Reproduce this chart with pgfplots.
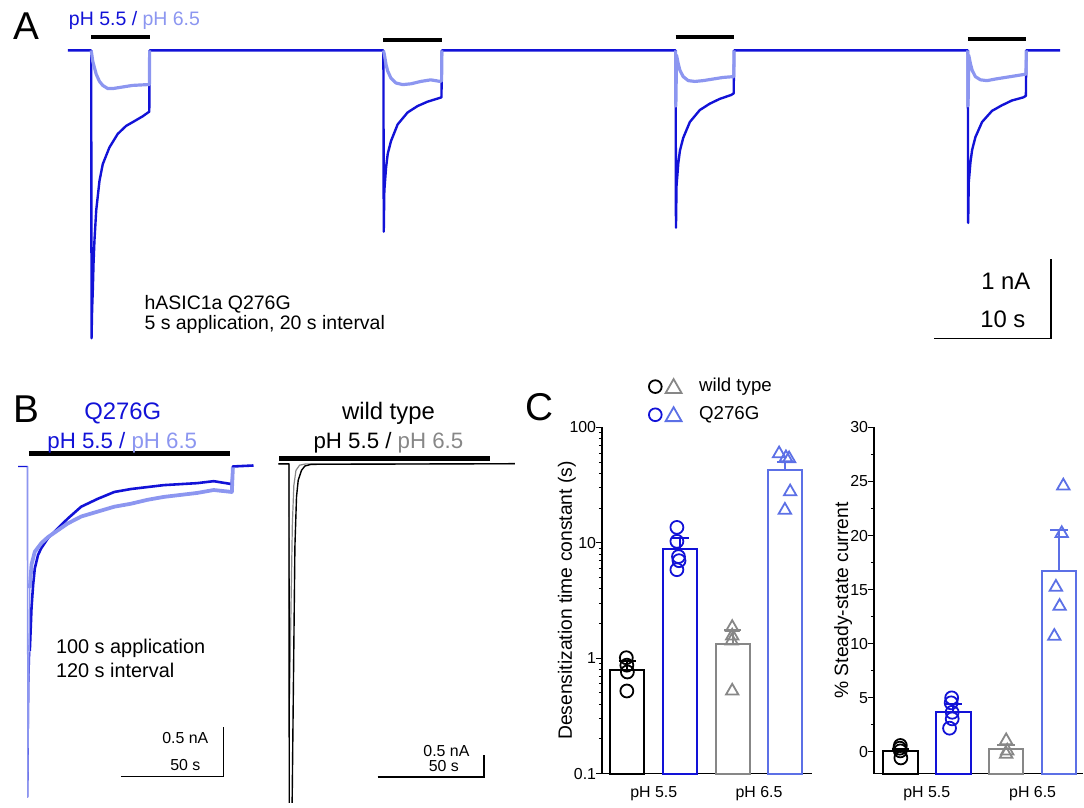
\documentclass[border=0pt]{standalone}
\usepackage{fontspec}
\setmainfont{Liberation Sans}
\usepackage{pgfplots}
\pgfplotsset{compat=1.18}
\definecolor{dblue}{RGB}{18,18,215}
\definecolor{lblue}{RGB}{140,150,240}
\definecolor{mblue}{RGB}{92,112,230}
\definecolor{gry}{RGB}{135,135,135}
\newcommand{\fs}[1]{\fontsize{#1}{#1}\selectfont}
\begin{document}
\begin{tikzpicture}
\begin{scope}[x=0.5pt,y=0.5pt]
\useasboundingbox (0,0) rectangle (1084,807);
\end{scope}

% ---------------- Panel A ----------------
\begin{axis}[at={(30pt,228.5pt)}, anchor=south west, scale only axis,
  width=505pt, height=165pt, xmin=-2.70, xmax=83.19, ymin=-3.741, ymax=0.384,
  hide axis, clip=false]
\addplot[dblue, line width=1.2pt, line join=round] coordinates {
(-2.0,0) (0,0) (0.03,-3.62) (0.08,-3.25) (0.14,-3.01) (0.2,-2.68) (0.28,-2.39) (0.43,-2.01) (0.71,-1.64) (0.99,-1.43) (1.56,-1.22) (2.27,-1.05) (2.98,-0.95) (3.69,-0.89) (4.39,-0.83) (4.97,-0.77) (5.0,0)
(25,0) (25.03,-2.28) (25.08,-1.76) (25.23,-1.47) (25.37,-1.30) (25.65,-1.14) (26.22,-0.93) (27.07,-0.78) (27.92,-0.70) (28.77,-0.645) (29.76,-0.60) (29.97,-0.59) (30,0)
(50,0) (50.03,-2.23) (50.08,-1.70) (50.23,-1.42) (50.37,-1.26) (50.65,-1.10) (51.22,-0.90) (52.07,-0.75) (52.92,-0.67) (53.77,-0.61) (54.76,-0.56) (54.97,-0.54) (55,0)
(75,0) (75.03,-2.17) (75.08,-1.66) (75.23,-1.40) (75.37,-1.25) (75.65,-1.09) (76.22,-0.90) (77.07,-0.76) (77.92,-0.69) (78.77,-0.63) (79.76,-0.59) (79.97,-0.57) (80,0) (82.9,0)};
\addplot[lblue, line width=1.6pt, line join=round] coordinates {
(0,0) (0.14,-0.14) (0.43,-0.30) (0.71,-0.39) (0.99,-0.44) (1.42,-0.48) (1.84,-0.48) (2.69,-0.46) (3.54,-0.44) (4.82,-0.43) (4.98,-0.43) (5.0,0)};
\addplot[lblue, line width=1.6pt, line join=round] coordinates {
(25,0) (25.08,-0.05) (25.23,-0.18) (25.37,-0.26) (25.65,-0.35) (26.08,-0.41) (26.65,-0.43) (27.35,-0.42) (28.2,-0.39) (29.05,-0.37) (29.85,-0.39) (29.98,-0.38) (30,0)};
\addplot[lblue, line width=1.6pt, line join=round] coordinates {
(50,0) (50.02,-0.7) (50.08,-0.06) (50.23,-0.17) (50.37,-0.25) (50.65,-0.33) (51.08,-0.38) (51.65,-0.39) (52.35,-0.38) (53.2,-0.36) (54.05,-0.34) (54.9,-0.33) (54.98,-0.33) (55,0)};
\addplot[lblue, line width=1.6pt, line join=round] coordinates {
(75,0) (75.02,-0.7) (75.08,-0.06) (75.23,-0.17) (75.37,-0.25) (75.65,-0.33) (76.08,-0.37) (76.65,-0.38) (77.35,-0.36) (78.2,-0.34) (79.05,-0.32) (79.9,-0.30) (79.98,-0.30) (80,0)};
% application bars
\addplot[black, line width=2pt] coordinates {(0,0.17) (5,0.17)};
\addplot[black, line width=2pt] coordinates {(25,0.13) (30,0.13)};
\addplot[black, line width=2pt] coordinates {(50,0.165) (55,0.165)};
\addplot[black, line width=2pt] coordinates {(75,0.145) (80,0.145)};
% scale bar
\addplot[black, line width=0.75pt] coordinates {(72.13,-3.62) (82.13,-3.62) (82.13,-2.62)};
\end{axis}

% ---------------- Panel B left ----------------
\begin{axis}[at={(7.5pt,0pt)}, anchor=south west, scale only axis,
  width=122.5pt, height=178.5pt, xmin=-6.15, xmax=112.44, ymin=-3.4215, ymax=0.1955,
  hide axis, clip=false]
\addplot[dblue, line width=0.6pt, line join=round] coordinates {(-4.55,0) (0,0) (0.1,-3.37) (0.63,-2.22) (1.11,-1.88)};
\addplot[dblue, line width=1.3pt, line join=round] coordinates {
(1.11,-1.88) (1.94,-1.44) (2.71,-1.21) (3.53,-1.04) (5.13,-0.90) (6.78,-0.83) (9.97,-0.73) (14.81,-0.63) (19.65,-0.53) (26.14,-0.41) (34.17,-0.33) (42.26,-0.26) (50.34,-0.23) (58.37,-0.21) (66.46,-0.19) (74.54,-0.18) (82.58,-0.17) (90.66,-0.15) (99.5,-0.18) (100,0) (110.04,0.01)};
\addplot[lblue, line width=0.6pt, line join=round] coordinates {(0,0) (0.05,-3.37) (1.11,-1.24)};
\addplot[lblue, line width=1.9pt, line join=round] coordinates {
(1.11,-1.24) (1.94,-1.00) (3.53,-0.87) (6.78,-0.78) (9.97,-0.72) (14.81,-0.65) (19.65,-0.58) (26.14,-0.51) (34.17,-0.46) (42.26,-0.41) (50.34,-0.38) (58.37,-0.34) (66.46,-0.31) (74.54,-0.29) (82.58,-0.27) (90.66,-0.24) (99.5,-0.26) (100,-0.01)};
\addplot[black, line width=2.15pt] coordinates {(0.63,0.133) (98.74,0.133)};
\addplot[black, line width=0.75pt] coordinates {(45.5,-3.158) (95.5,-3.158) (95.5,-2.658)};
\end{axis}

% ---------------- Panel B right ----------------
\begin{axis}[at={(137.5pt,0pt)}, anchor=south west, scale only axis,
  width=125pt, height=178.5pt, xmin=-7.34, xmax=109.49, ymin=-7.841, ymax=0.385,
  hide axis, clip=true]
\addplot[gry, line width=0.6pt, line join=round] coordinates {
(-5,0) (0,0) (0.3,-5.43) (1.07,-3.0) (1.6,-1.4) (2.3,-0.5) (3.3,-0.15) (5.0,-0.03) (8,0) (106.2,0.0)};
\addplot[black, line width=0.7pt, line join=round] coordinates {
(-5,0) (0,0) (0.15,-8.3) (1.3,-8.3) (1.54,-7.68) (2.8,-1.92) (3.55,-0.77) (4.35,-0.38) (5.89,-0.15) (7.48,-0.05) (10.4,-0.01) (106.2,0.005)};
\addplot[black, line width=2.5pt] coordinates {(-4.53,0.136) (94.4,0.136)};
\addplot[black, line width=0.75pt] coordinates {(41.7,-7.258) (91.7,-7.258) (91.7,-6.758)};
\end{axis}

% ---------------- Panel C left ----------------
\begin{axis}[at={(302.85pt,14.35pt)}, anchor=south west, scale only axis,
  width=105.5pt, height=174.15pt, xmin=0.519, xmax=4.5,
  ymode=log, ymin=0.1, ymax=100,
  axis x line*=bottom, axis y line*=left, axis line style={line width=0.6pt},
  xtick={1.5,3.5}, xticklabels={pH 5.5,pH 6.5}, x tick style={draw=none},
  ytick={0.1,1,10,100}, yticklabels={0.1,1,10,100},
  tick align=outside, major tick length=2.8pt, minor tick length=1.6pt,
  tick style={line width=0.5pt, black},
  tick label style={font=\fs{8}},
  yticklabel style={inner sep=0pt},
  ylabel={Desensitization time constant (s)},
  ylabel style={font=\fs{9.7}, at={(axis description cs:-0.168,0.5)}, anchor=center},
  clip=false,
  legend style={draw=none, fill=none, inner sep=0pt, at={(axis description cs:0.2175,1.1434)}, anchor=north west,
    font=\fs{9.4}, row sep=5.75pt, column sep=8.4pt, nodes={inner sep=0pt}},
  legend cell align=left]
\addplot[forget plot, black, line width=1pt] coordinates {(0.676,0.1) (0.676,0.79) (1.324,0.79) (1.324,0.1)} -- cycle;
\addplot[forget plot, dblue, line width=1pt] coordinates {(1.676,0.1) (1.676,8.88) (2.324,8.88) (2.324,0.1)} -- cycle;
\addplot[forget plot, gry, line width=1pt] coordinates {(2.676,0.1) (2.676,1.34) (3.324,1.34) (3.324,0.1)} -- cycle;
\addplot[forget plot, mblue, line width=1pt] coordinates {(3.676,0.1) (3.676,42.6) (4.324,42.6) (4.324,0.1)} -- cycle;
\addplot[forget plot, black, line width=1pt] coordinates {(1,0.79) (1,0.95)};
\addplot[forget plot, black, line width=1pt] coordinates {(0.836,0.95) (1.164,0.95)};
\addplot[forget plot, dblue, line width=1pt] coordinates {(2,8.88) (2,10.96)};
\addplot[forget plot, dblue, line width=1pt] coordinates {(1.836,10.96) (2.164,10.96)};
\addplot[forget plot, gry, line width=1pt] coordinates {(3,1.34) (3,1.75)};
\addplot[forget plot, gry, line width=1pt] coordinates {(2.836,1.75) (3.164,1.75)};
\addplot[forget plot, mblue, line width=1pt] coordinates {(4,42.6) (4,50)};
\addplot[forget plot, mblue, line width=1pt] coordinates {(3.836,50) (4.164,50)};
\addplot[forget plot, only marks, mark=o, mark size=3.25pt, mark options={draw=black, line width=0.9pt}] coordinates {(0.98,1.01) (0.99,0.87) (1.0,0.76) (0.99,0.52)};
\addplot[forget plot, only marks, mark=o, mark size=3.25pt, mark options={draw=dblue, line width=0.9pt}] coordinates {(1.94,13.6) (1.94,10.3) (1.97,7.6) (1.98,7.0) (1.94,5.85)};
\addplot[forget plot, only marks, mark=triangle, mark size=3.6pt, mark options={draw=gry, line width=0.9pt}] coordinates {(2.99,1.85) (2.99,1.56) (2.98,1.41) (2.99,0.52)};
\addplot[forget plot, only marks, mark=triangle, mark size=3.6pt, mark options={draw=mblue, line width=0.9pt}] coordinates {(3.88,59.2) (4.01,54.7) (4.07,53.6) (4.09,27.7) (3.99,19.2)};
\addlegendimage{legend image code/.code={
  \draw[black, line width=0.9pt] (0pt,0pt) circle (3.2pt);
  \draw[gry, line width=0.9pt, line join=miter] (9.2pt,3.8pt) -- (13.2pt,-3.2pt) -- (5.2pt,-3.2pt) -- cycle;}}
\addlegendentry{wild type}
\addlegendimage{legend image code/.code={
  \draw[dblue, line width=0.9pt] (0pt,0pt) circle (3.2pt);
  \draw[mblue, line width=0.9pt, line join=miter] (9.2pt,3.8pt) -- (13.2pt,-3.2pt) -- (5.2pt,-3.2pt) -- cycle;}}
\addlegendentry{Q276G}
\end{axis}

% ---------------- Panel C right ----------------
\begin{axis}[at={(439.65pt,14.35pt)}, anchor=south west, scale only axis,
  width=105.35pt, height=174.15pt, xmin=0.502, xmax=4.46,
  ymin=-2, ymax=30,
  axis x line*=bottom, axis y line*=left, axis line style={line width=0.6pt},
  xtick={1.5,3.5}, xticklabels={pH 5.5,pH 6.5}, x tick style={draw=none},
  ytick={0,5,10,15,20,25,30}, yticklabels={0,5,10,15,20,25,30}, minor y tick num=1,
  tick align=outside, major tick length=2.8pt, minor tick length=1.6pt,
  tick style={line width=0.5pt, black},
  tick label style={font=\fs{8}},
  yticklabel style={inner sep=0pt},
  ylabel={\% Steady-state current},
  ylabel style={font=\fs{9.7}, at={(axis description cs:-0.147,0.5)}, anchor=center},
  clip=false]
\addplot[black, line width=1pt] coordinates {(0.674,-2) (0.674,0.1) (1.326,0.1) (1.326,-2)} -- cycle;
\addplot[dblue, line width=1pt] coordinates {(1.674,-2) (1.674,3.67) (2.326,3.67) (2.326,-2)} -- cycle;
\addplot[gry, line width=1pt] coordinates {(2.674,-2) (2.674,0.31) (3.326,0.31) (3.326,-2)} -- cycle;
\addplot[mblue, line width=1pt] coordinates {(3.674,-2) (3.674,16.75) (4.326,16.75) (4.326,-2)} -- cycle;
\addplot[black, line width=1pt] coordinates {(1,0.1) (1,0.31)};
\addplot[black, line width=1pt] coordinates {(0.836,0.31) (1.164,0.31)};
\addplot[dblue, line width=1pt] coordinates {(2,3.67) (2,4.44)};
\addplot[dblue, line width=1pt] coordinates {(1.836,4.44) (2.164,4.44)};
\addplot[gry, line width=1pt] coordinates {(3,0.31) (3,0.68)};
\addplot[gry, line width=1pt] coordinates {(2.836,0.68) (3.164,0.68)};
\addplot[mblue, line width=1pt] coordinates {(4,16.75) (4,20.5)};
\addplot[mblue, line width=1pt] coordinates {(3.836,20.5) (4.164,20.5)};
\addplot[only marks, mark=o, mark size=3.25pt, mark options={draw=black, line width=0.9pt}] coordinates {(1.0,0.6) (0.99,0.35) (1.0,0.1) (1.01,-0.55)};
\addplot[only marks, mark=o, mark size=3.25pt, mark options={draw=dblue, line width=0.9pt}] coordinates {(1.97,5.0) (1.96,4.54) (1.98,3.67) (1.98,3.06) (1.93,2.2)};
\addplot[only marks, mark=triangle, mark size=3.6pt, mark options={draw=gry, line width=0.9pt}] coordinates {(3.0,1.05) (3.02,0.1) (3.0,-0.2)};
\addplot[only marks, mark=triangle, mark size=3.6pt, mark options={draw=mblue, line width=0.9pt}] coordinates {(4.08,24.6) (4.05,20.2) (3.94,15.24) (4.01,13.47) (3.91,10.7)};
\end{axis}

% ---------------- Text ----------------
\begin{scope}[x=0.5pt,y=0.5pt]
\node[anchor=base west, inner sep=0pt, font=\fs{19.5}] at (13,767) {A};
\node[anchor=base west, inner sep=0pt, font=\fs{9.8}] at (69,781.5) {\textcolor{dblue}{pH 5.5 /} \textcolor{lblue}{pH 6.5}};
\node[anchor=base west, inner sep=0pt, font=\fs{9.8}] at (145,496) {hASIC1a Q276G};
\node[anchor=base west, inner sep=0pt, font=\fs{9.8}] at (145,475) {5 s application, 20 s interval};
\node[anchor=base east, inner sep=0pt, font=\fs{12}] at (1037,516) {1 nA};
\node[anchor=base east, inner sep=0pt, font=\fs{12}] at (1032,478) {10 s};

\node[anchor=base west, inner sep=0pt, font=\fs{19.5}] at (13,382) {B};
\node[anchor=base, inner sep=0pt, font=\fs{12}, text=dblue] at (123.5,385) {Q276G};
\node[anchor=base, inner sep=0pt, font=\fs{11.2}] at (123,356) {\textcolor{dblue}{pH 5.5 /} \textcolor{lblue}{pH 6.5}};
\node[anchor=base, inner sep=0pt, font=\fs{12}] at (390.8,385) {wild type};
\node[anchor=base, inner sep=0pt, font=\fs{11.2}] at (390.8,356) {pH 5.5 / \textcolor{gry}{pH 6.5}};
\node[anchor=base west, inner sep=0pt, font=\fs{10}] at (56,149.7) {100 s application};
\node[anchor=base west, inner sep=0pt, font=\fs{10}] at (56,125.3) {120 s interval};
\node[anchor=base east, inner sep=0pt, font=\fs{8}] at (210,59) {0.5 nA};
\node[anchor=base east, inner sep=0pt, font=\fs{8}] at (202,32) {50 s};
\node[anchor=base east, inner sep=0pt, font=\fs{8}] at (472.7,46) {0.5 nA};
\node[anchor=base east, inner sep=0pt, font=\fs{8}] at (462,31.3) {50 s};

\node[anchor=base west, inner sep=0pt, font=\fs{19.5}] at (528,384) {C};
\end{scope}
\end{tikzpicture}
\end{document}
